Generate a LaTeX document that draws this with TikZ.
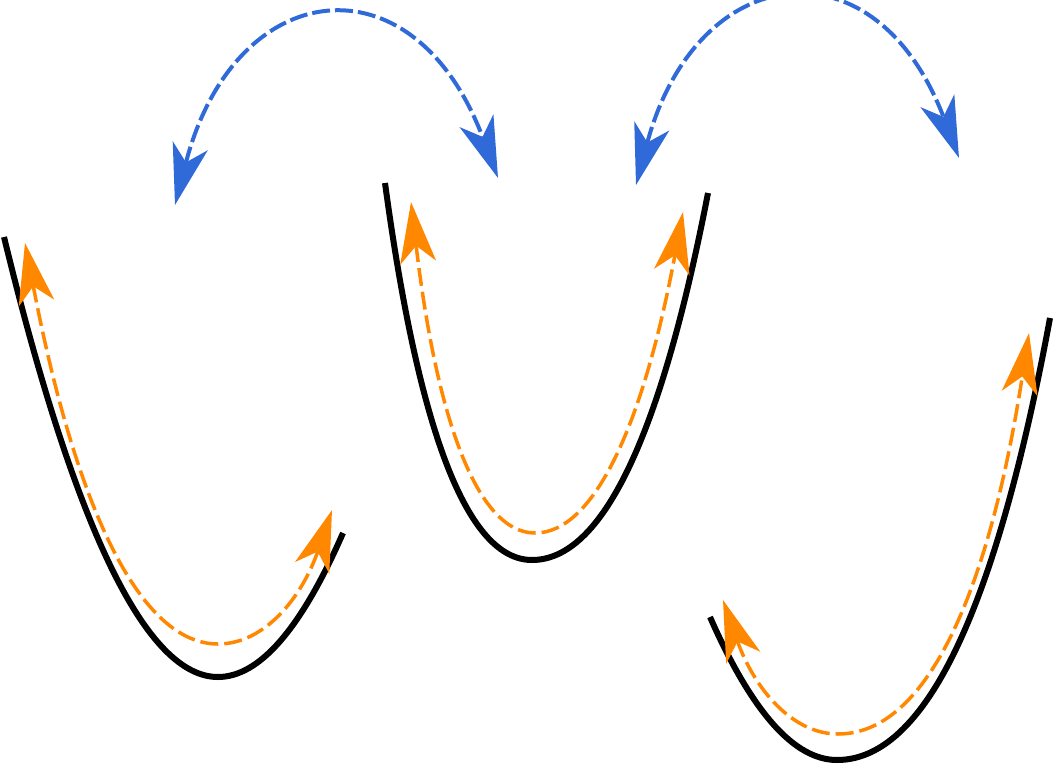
\documentclass[tikz,border=0pt]{standalone}
\usetikzlibrary{arrows.meta,calc}
\definecolor{arcblue}{RGB}{47,106,216}
\definecolor{arcorange}{RGB}{255,136,0}
\tikzset{
  blackcurve/.style={line width=6pt,black},
  orangearc/.style={line width=3.5pt,arcorange,dash pattern=on 18pt off 6pt,
    {Stealth[length=61pt,width=36pt,inset=17pt]}-{Stealth[length=61pt,width=36pt,inset=17pt]}},
  bluearc/.style={line width=4pt,arcblue,dash pattern=on 18pt off 5pt,
    {Stealth[length=61pt,width=36pt,inset=17pt]}-{Stealth[length=61pt,width=36pt,inset=17pt]}}
}
\begin{document}
\begin{tikzpicture}[x=1pt,y=-1pt]
\useasboundingbox (0,0) rectangle (1054,765);
% black curves
\coordinate (b1s) at (4,237);   \coordinate (b1b) at (218,677); \coordinate (b1e) at (343,533);
\coordinate (k1l) at (111,677); \coordinate (k1r) at (280,677);
\coordinate (b2s) at (385,183); \coordinate (b2b) at (532,560); \coordinate (b2e) at (708,193);
\coordinate (k2l) at (436,560); \coordinate (k2r) at (637,560);
\coordinate (b3s) at (710,617); \coordinate (b3b) at (837,760); \coordinate (b3e) at (1050,318);
\coordinate (k3l) at (773,760); \coordinate (k3r) at (968,760);
% orange curves
\coordinate (o1s) at (25,243);  \coordinate (o1b) at (218,644); \coordinate (o1e) at (332,510);
\coordinate (q1l) at (102,644); \coordinate (q1r) at (286,644);
\coordinate (o2s) at (411,202); \coordinate (o2b) at (535,533); \coordinate (o2e) at (683,212);
\coordinate (q2l) at (450,533); \coordinate (q2r) at (623,533);
\coordinate (o3s) at (723,600); \coordinate (o3b) at (838,734); \coordinate (o3e) at (1029,333);
\coordinate (q3l) at (770,734); \coordinate (q3r) at (967,734);
% blue arcs
\coordinate (u1s) at (175,205); \coordinate (u1e) at (498,178);
\coordinate (u2s) at (636,185); \coordinate (u2e) at (959,158);

\foreach \i in {1,2,3}{
  \draw[blackcurve] (b\i s) .. controls ($(b\i s)!0.667!(k\i l)$) and ($(b\i b)!0.667!(k\i l)$) .. (b\i b)
    .. controls ($(b\i b)!0.667!(k\i r)$) and ($(b\i e)!0.667!(k\i r)$) .. (b\i e);
  \draw[orangearc] (o\i s) .. controls ($(o\i s)!0.667!(q\i l)$) and ($(o\i b)!0.667!(q\i l)$) .. (o\i b)
    .. controls ($(o\i b)!0.667!(q\i r)$) and ($(o\i e)!0.667!(q\i r)$) .. (o\i e);
}
\draw[bluearc] (u1s) .. controls (234,-24) and (413,-48) .. (u1e);
\draw[bluearc] (u2s) .. controls (696,-40) and (875,-64) .. (u2e);
\end{tikzpicture}
\end{document}
